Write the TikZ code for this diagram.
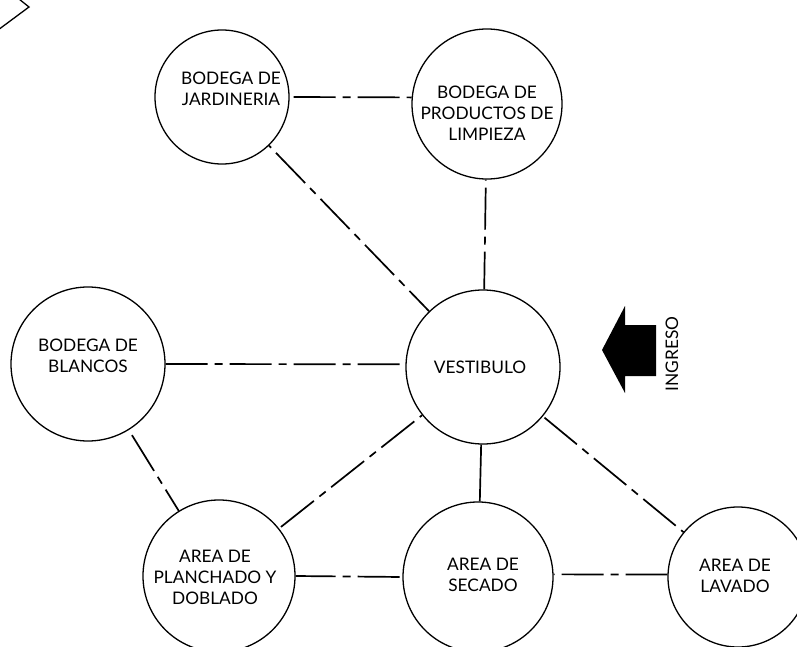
\documentclass[tikz,border=0pt]{standalone}
\usepackage{fontspec}
\setmainfont{Lato}
\begin{document}
\begin{tikzpicture}[x=1pt,y=-1pt,
  room/.style={circle,draw,line width=1.3pt,inner sep=0pt},
  lbl/.style={align=center,font=\fontsize{17.3}{21}\selectfont,inner sep=0pt},
  link/.style={line width=1.7pt},
  dashdot/.style={link,dash pattern=on 42pt off 7pt on 8pt off 7pt}]
\clip (0,0) rectangle (797,647);
\useasboundingbox (0,0) rectangle (797,647);
% circles
\node[room,minimum size=134pt] (jar) at (222,97) {};
\node[room,minimum size=150pt] (limp) at (487,104) {};
\node[room,minimum size=154pt] (bla) at (88,364) {};
\node[room,minimum size=154pt] (ves) at (483,367) {};
\node[room,minimum size=152pt] (pla) at (219,576) {};
\node[room,minimum size=150pt] (sec) at (478,577) {};
\node[room,minimum size=140pt] (lav) at (738,577) {};
% labels
\node[lbl] (tjar) at (231,89) {BODEGA DE\\JARDINERIA};
\node[lbl] (tlimp) at (487,113) {BODEGA DE\\PRODUCTOS DE\\LIMPIEZA};
\node[lbl] (tbla) at (88,356) {BODEGA DE\\BLANCOS};
\node[lbl] (tves) at (480,367) {VESTIBULO};
\node[lbl] (tpla) at (215,577) {AREA DE\\PLANCHADO Y\\DOBLADO};
\node[lbl] (tsec) at (483,575) {AREA DE\\SECADO};
\node[lbl] (tlav) at (735,576) {AREA DE\\LAVADO};
% connectors
\draw[dashdot,dash phase=-4pt] (jar.0) -- (limp.175);
\draw[dashdot,dash phase=-10pt] (jar) -- (ves);
\draw[dashdot,dash phase=-8pt] (limp) -- (ves);
\draw[dashdot] (bla.0) -- (ves.178.5);
\draw[dashdot,dash phase=-6pt] (bla) -- (pla);
\draw[dashdot,dash phase=-10pt] (ves) -- (pla);
\draw[link] (ves) -- (sec);
\draw[dashdot,dash phase=-2pt] (ves) -- (lav);
\draw[dashdot,dash phase=2pt] (pla.0) -- (sec.180);
\draw[dashdot,dash phase=-8pt] (sec.2) -- (lav.178.3);
% entrance arrow
\fill (602,350) -- (625,306) -- (625,325) -- (656,325) -- (656,376) -- (625,376) -- (625,393) -- cycle;
\node[lbl,rotate=90] (ingreso) at (672,354) {INGRESO};
% corner fragment
\draw[line width=1.3pt] (-2,30) -- (29,7) -- (19,-1);
\end{tikzpicture}
\end{document}
